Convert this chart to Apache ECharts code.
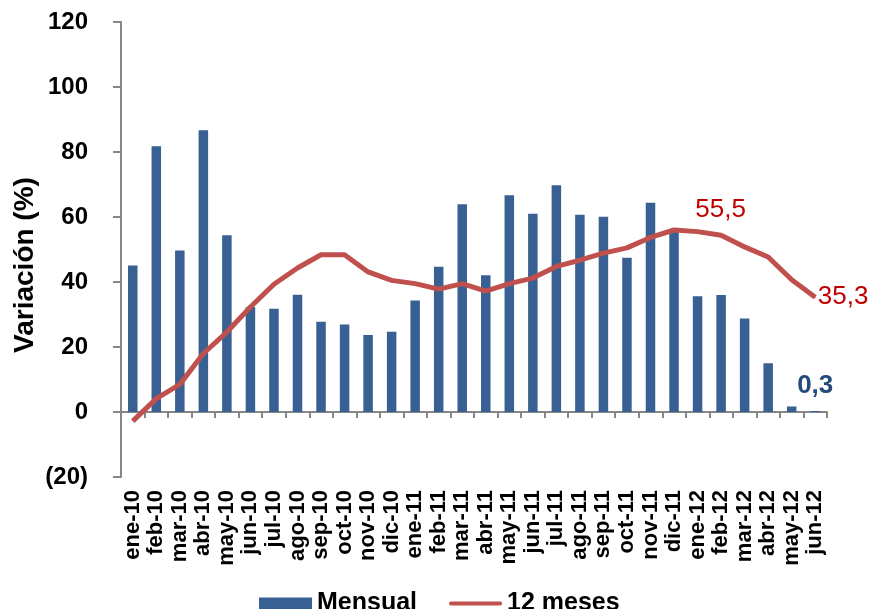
<!DOCTYPE html>
<html lang="es">
<head>
<meta charset="UTF-8">
<style>
  html, body { margin: 0; padding: 0; background: #ffffff; }
  #chart { width: 870px; height: 609px; }
</style>
<script src="https://cdn.jsdelivr.net/npm/echarts@6/dist/echarts.min.js"></script>
</head>
<body>
<div id="chart"></div>
<script>
// meses (ene-10 .. jun-12)
const months = ['ene-10','feb-10','mar-10','abr-10','may-10','jun-10','jul-10','ago-10','sep-10','oct-10','nov-10','dic-10',
                'ene-11','feb-11','mar-11','abr-11','may-11','jun-11','jul-11','ago-11','sep-11','oct-11','nov-11','dic-11',
                'ene-12','feb-12','mar-12','abr-12','may-12','jun-12'];
// variacion mensual (%)
const mensual = [45.1, 81.8, 49.7, 86.7, 54.4, 32.3, 31.8, 36.1, 27.8, 26.9, 23.7, 24.7,
                 34.3, 44.7, 63.9, 42.1, 66.7, 61.0, 69.8, 60.7, 60.1, 47.5, 64.4, 55.4,
                 35.6, 36.0, 28.8, 15.0, 1.7, 0.3];
// variacion 12 meses (%)
const doceMeses = [-2.8, 4.1, 8.5, 18.0, 24.6, 32.3, 39.3, 44.3, 48.4, 48.4, 43.1, 40.5,
                   39.5, 37.8, 39.5, 37.2, 39.5, 41.2, 44.8, 46.7, 48.9, 50.5, 53.7, 56.0,
                   55.5, 54.4, 50.8, 47.7, 40.7, 35.3];

const fontFam = '"Liberation Sans", Arial, sans-serif';
const blue = '#386092';
const red = '#C0504D';
const axisGray = '#868686';

function fmtNum(v) { return String(v).replace('.', ','); }

const barData = mensual.map((v, i) => {
  if (i === mensual.length - 1) {
    return { value: v, label: { show: true, position: 'top', distance: 12, formatter: fmtNum(v),
      color: '#254A7C', fontSize: 26, fontWeight: 'bold', fontFamily: fontFam } };
  }
  return v;
});

const lineData = doceMeses.map((v, i) => {
  if (i === 24) {
    return { value: v, symbol: 'circle', symbolSize: 1,
      label: { show: true, position: 'top', distance: 8, offset: [23, 0], formatter: fmtNum(v),
        color: '#C00000', fontSize: 26, fontFamily: fontFam } };
  }
  if (i === doceMeses.length - 1) {
    return { value: v, symbol: 'circle', symbolSize: 1,
      label: { show: true, position: 'right', distance: 2, formatter: fmtNum(v),
        color: '#C00000', fontSize: 26, fontFamily: fontFam } };
  }
  return v;
});

const chart = echarts.init(document.getElementById('chart'), null, { renderer: 'canvas' });

chart.setOption({
  animation: false,
  backgroundColor: '#ffffff',
  grid: { left: 121, right: 43, top: 22, bottom: 132, containLabel: false },
  legend: {
    left: 254, top: 586,
    itemWidth: 53, itemHeight: 12, itemGap: 32,
    textStyle: { fontSize: 25, fontWeight: 'bold', color: '#000', fontFamily: fontFam },
    data: [
      { name: 'Mensual', icon: 'rect' },
      { name: '12 meses', icon: 'path://M2,0 H53 A2,2 0 0 1 53,4 H2 A2,2 0 0 1 2,0 Z' }
    ]
  },
  graphic: [{
    type: 'text', x: 25, y: 265, rotation: Math.PI / 2,
    style: { text: 'Variación (%)', fontSize: 28, fontWeight: 'bold', fill: '#000',
      fontFamily: fontFam, align: 'center', verticalAlign: 'middle' }
  }],
  xAxis: [{
    type: 'category', data: months, boundaryGap: true,
    axisLine: { show: true, onZero: true, lineStyle: { color: axisGray, width: 2 } },
    axisTick: { show: true, interval: 0, length: 6, lineStyle: { color: axisGray, width: 2 } },
    axisLabel: { show: false },
    splitLine: { show: false }
  }, {
    type: 'category', data: months, position: 'bottom', boundaryGap: true,
    axisLine: { show: false, onZero: false },
    axisTick: { show: false },
    axisLabel: { show: true, interval: 0, rotate: 90, margin: 13,
      fontSize: 22, fontWeight: 'bold', color: '#000', fontFamily: fontFam },
    splitLine: { show: false }
  }],
  yAxis: {
    type: 'value', min: -20, max: 120, interval: 20,
    axisLine: { show: true, lineStyle: { color: axisGray, width: 2 } },
    axisTick: { show: true, length: 8, lineStyle: { color: axisGray, width: 2 } },
    axisLabel: { margin: 33, fontSize: 24, fontWeight: 'bold', color: '#000', fontFamily: fontFam,
      formatter: v => v < 0 ? '(' + (-v) + ')' : String(v) },
    splitLine: { show: false }
  },
  series: [{
    name: 'Mensual', type: 'bar', xAxisIndex: 0, data: barData,
    barWidth: 9.5, itemStyle: { color: blue }, silent: true
  }, {
    name: '12 meses', type: 'line', xAxisIndex: 0, data: lineData,
    symbol: 'none', smooth: false, silent: true,
    lineStyle: { color: red, width: 5 }, itemStyle: { color: red }
  }]
});
</script>
</body>
</html>
